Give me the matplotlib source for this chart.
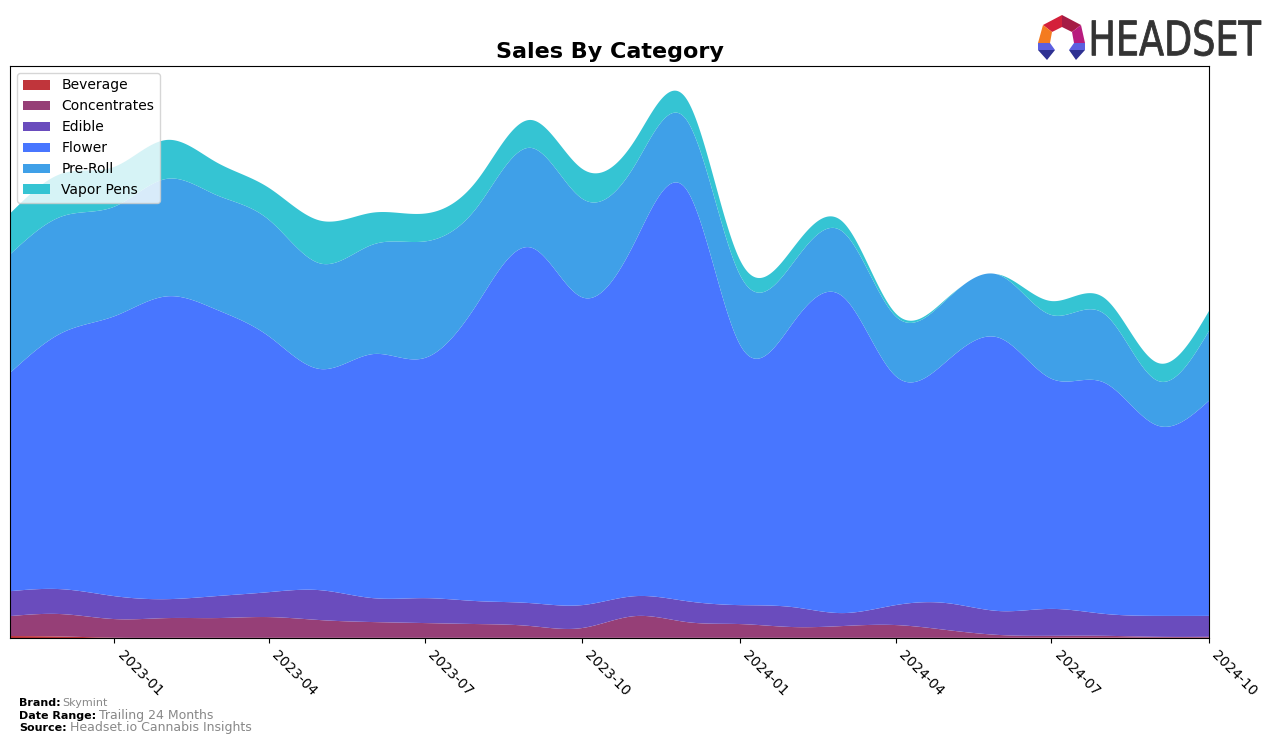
import numpy as np
import matplotlib
matplotlib.use("Agg")
import matplotlib.pyplot as plt
import matplotlib.dates as mdates
from matplotlib.patches import Polygon, PathPatch
from matplotlib.textpath import TextPath
from matplotlib.font_manager import FontProperties
from matplotlib.transforms import Affine2D
import datetime as dt

# ---------------- data ----------------
months = ["2022-11", "2022-12", "2023-01", "2023-02", "2023-03", "2023-04",
          "2023-05", "2023-06", "2023-07", "2023-08", "2023-09", "2023-10",
          "2023-11", "2023-12", "2024-01", "2024-02", "2024-03", "2024-04",
          "2024-05", "2024-06", "2024-07", "2024-08", "2024-09", "2024-10"]

categories = ["Beverage", "Concentrates", "Edible", "Flower", "Pre-Roll", "Vapor Pens"]

beverage = [2000, 1500, 300, 200, 200, 200, 200, 200, 200, 200, 200, 200,
            200, 200, 200, 200, 200, 200, 200, 200, 400, 400, 400, 400]
concentrates = [20000, 22500, 18700, 19800, 19800, 20800, 17800, 15800, 14800, 13800, 11800, 9800,
                21800, 15800, 13800, 10800, 11800, 12800, 7800, 2800, 1800, 1800, 800, 800]
edible = [25000, 25000, 23000, 19000, 22000, 25000, 30000, 24000, 25000, 23000, 23000, 23000,
          20000, 21000, 19000, 20000, 13000, 20000, 27000, 24000, 27000, 22000, 21000, 21000]
flower = [219000, 257000, 281000, 304000, 288000, 257000, 222000, 245000, 241000, 299000, 357000, 309000,
          356000, 413000, 262000, 285000, 318000, 230000, 243000, 274000, 231000, 232000, 191000, 216000]
pre_roll = [119000, 117000, 110000, 118000, 115000, 117000, 106000, 110000, 117000, 97000, 100000, 99000,
            77000, 70000, 70000, 60000, 65000, 60000, 62000, 63000, 64000, 69000, 45000, 70000]
vapor_pens = [41000, 43000, 40000, 39000, 33000, 32000, 43000, 32000, 28000, 27000, 28000, 30000,
              25000, 21000, 15000, 15000, 10000, 3000, 1000, 500, 14000, 16000, 18000, 20000]

xtick_labels = ["2023-01", "2023-04", "2023-07", "2023-10", "2024-01", "2024-04", "2024-07", "2024-10"]

colors = ["#C0353B", "#963F77", "#6A4CBD", "#4876FF", "#3FA0E8", "#35C4D3"]

# ---------------- smoothing helper ----------------
def natural_spline(x, y, xs):
    x = np.asarray(x, float); y = np.asarray(y, float)
    n = len(x); h = np.diff(x)
    A = np.zeros((n, n)); r = np.zeros(n)
    A[0, 0] = 1; A[-1, -1] = 1
    for i in range(1, n - 1):
        A[i, i - 1] = h[i - 1]
        A[i, i] = 2 * (h[i - 1] + h[i])
        A[i, i + 1] = h[i]
        r[i] = 3 * ((y[i + 1] - y[i]) / h[i] - (y[i] - y[i - 1]) / h[i - 1])
    c = np.linalg.solve(A, r)
    b = (y[1:] - y[:-1]) / h - h * (2 * c[:-1] + c[1:]) / 3
    d = (c[1:] - c[:-1]) / (3 * h)
    idx = np.clip(np.searchsorted(x, xs) - 1, 0, n - 2)
    t = xs - x[idx]
    return y[idx] + b[idx] * t + c[idx] * t ** 2 + d[idx] * t ** 3

dates = [dt.datetime.strptime(m, "%Y-%m") for m in months]
xnum = mdates.date2num(dates)
xs = np.linspace(xnum[0], xnum[-1], 800)
series = [beverage, concentrates, edible, flower, pre_roll, vapor_pens]
smooth = [np.clip(natural_spline(xnum, s, xs), 0, None) for s in series]

# ---------------- figure ----------------
fig = plt.figure(figsize=(12.76, 7.45), dpi=100)
ax = fig.add_axes([10 / 1276, 1 - 638 / 745, (1209 - 10) / 1276, (638 - 66) / 745])

ax.stackplot(xs, *smooth, labels=categories, colors=colors)
ax.set_xlim(xnum[0], xnum[-1])
total = np.sum(smooth, axis=0)
ax.set_ylim(0, total.max() * 1.045)
ax.set_yticks([])

tick_dates = mdates.date2num([dt.datetime.strptime(t, "%Y-%m") for t in xtick_labels])
ax.set_xticks(tick_dates)
ax.set_xticklabels(xtick_labels, fontsize=10)
plt.setp(ax.get_xticklabels(), rotation=-45, ha="left")

ax.set_title("Sales By Category", fontsize=16, fontweight="bold", pad=6)

leg = ax.legend(loc="upper left", fontsize=10, framealpha=0.8)

# ---------------- footer ----------------
fig.text(19 / 1276, 1 - 703 / 745, "Brand:", fontsize=8, fontweight="bold", va="center")
fig.text(62 / 1276, 1 - 703 / 745, "Skymint", fontsize=8, color="#888888", va="center")
fig.text(19 / 1276, 1 - 716 / 745, "Date Range:", fontsize=8, fontweight="bold", va="center")
fig.text(99 / 1276, 1 - 716 / 745, "Trailing 24 Months", fontsize=9, color="#888888", va="center")
fig.text(19 / 1276, 1 - 728 / 745, "Source:", fontsize=8, fontweight="bold", va="center")
fig.text(70 / 1276, 1 - 728 / 745, "Headset.io Cannabis Insights", fontsize=9, color="#888888", va="center")

# ---------------- logo ----------------
lax = fig.add_axes([0, 0, 1, 1], zorder=5)
lax.set_xlim(0, 1276); lax.set_ylim(745, 0); lax.axis("off")
pieces = [
    ([(1043, 25), (1062, 15), (1062, 27), (1052, 32)], "#D4203A"),
    ([(1062, 15), (1081, 25), (1072, 32), (1062, 27)], "#A51C45"),
    ([(1043, 25), (1052, 32), (1050, 43), (1038, 43)], "#F47B20"),
    ([(1081, 25), (1085, 43), (1074, 43), (1072, 32)], "#B81C7E"),
    ([(1038, 43), (1050, 43), (1055, 50), (1038, 50)], "#5C5FE0"),
    ([(1038, 50), (1055, 50), (1047, 60)], "#2E3192"),
    ([(1074, 43), (1085, 43), (1085, 50), (1069, 50)], "#5C5FE0"),
    ([(1069, 50), (1085, 50), (1076, 60)], "#2E3192"),
]
for pts, col in pieces:
    lax.add_patch(Polygon(pts, closed=True, facecolor=col, edgecolor="none"))

tp = TextPath((0, 0), "HEADSET", size=1, prop=FontProperties(family="DejaVu Sans"))
ext = tp.get_extents()
sx = (1261 - 1092) / ext.width
sy = (56 - 20) / ext.height
tr = Affine2D().translate(-ext.x0, -ext.y0).scale(sx, -sy).translate(1092, 56) + lax.transData
lax.add_patch(PathPatch(tp, facecolor="#333333", edgecolor="#333333", linewidth=0.6, transform=tr))

fig.savefig("out.png", dpi=100)
